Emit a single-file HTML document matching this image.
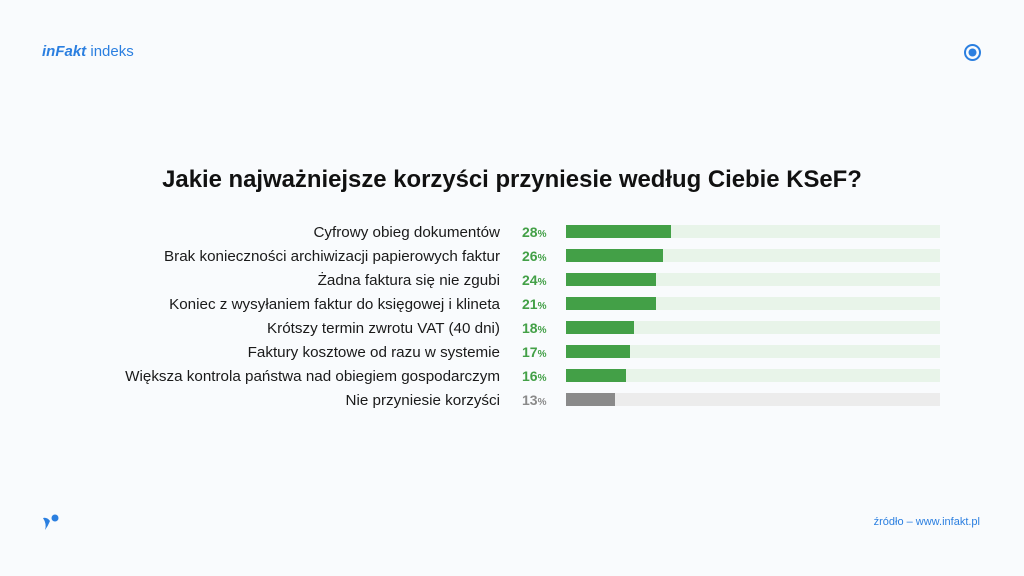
<!DOCTYPE html>
<html><head><meta charset="utf-8"><style>
body{margin:0;width:1024px;height:576px;background:#f9fbfd;font-family:"Liberation Sans","DejaVu Sans",sans-serif;position:relative;overflow:hidden}
.a{position:absolute}
.lbl{position:absolute;right:524px;font-size:15.2px;color:#1a1a1a;white-space:nowrap;line-height:16px;margin-top:1px}
.pct{position:absolute;left:522px;font-size:14px;font-weight:bold;color:#43a047;line-height:16px}
.pct span{font-size:10px}
.track{position:absolute;left:566px;width:374px;height:13px;background:#e8f4e9}
.bar{position:absolute;left:566px;height:13px;background:#43a047}
</style></head><body>
<div class="a" style="left:42px;top:43px;font-size:15px;color:#2b7fe0;"><b style="font-style:italic">inFakt</b> indeks</div>
<svg class="a" style="left:963px;top:43px" width="19" height="19"><circle cx="9.5" cy="9.5" r="7.5" fill="none" stroke="#2b7fe0" stroke-width="2"/><circle cx="9.5" cy="9.5" r="4" fill="#2b7fe0"/></svg>
<svg class="a" style="left:42px;top:513px" width="18" height="18"><circle cx="13" cy="5" r="3.5" fill="#2b7fe0"/><path d="M1 5 Q5 4 8 8 Q6 13 3 17 Q5 11 1 5Z" fill="#2b7fe0"/></svg>
<div class="a" style="right:44px;top:516px;font-size:11px;color:#2b7fe0">źródło – www.infakt.pl</div>
<div class="a" style="left:0;width:1024px;top:166px;text-align:center;font-size:23.9px;font-weight:bold;color:#111">Jakie najważniejsze korzyści przyniesie według Ciebie KSeF?</div>

<div class="lbl" style="top:224px">Cyfrowy obieg dokumentów</div>
<div class="lbl" style="top:248px">Brak konieczności archiwizacji papierowych faktur</div>
<div class="lbl" style="top:272px">Żadna faktura się nie zgubi</div>
<div class="lbl" style="top:296px">Koniec z wysyłaniem faktur do księgowej i klineta</div>
<div class="lbl" style="top:320px">Krótszy termin zwrotu VAT (40 dni)</div>
<div class="lbl" style="top:344px">Faktury kosztowe od razu w systemie</div>
<div class="lbl" style="top:368px">Większa kontrola państwa nad obiegiem gospodarczym</div>
<div class="lbl" style="top:392px">Nie przyniesie korzyści</div>

<div class="pct" style="top:224px">28<span>%</span></div>
<div class="pct" style="top:248px">26<span>%</span></div>
<div class="pct" style="top:272px">24<span>%</span></div>
<div class="pct" style="top:296px">21<span>%</span></div>
<div class="pct" style="top:320px">18<span>%</span></div>
<div class="pct" style="top:344px">17<span>%</span></div>
<div class="pct" style="top:368px">16<span>%</span></div>
<div class="pct" style="top:392px;color:#8a8a8a">13<span>%</span></div>

<div class="track" style="top:225px"></div><div class="bar" style="top:225px;width:105px"></div>
<div class="track" style="top:249px"></div><div class="bar" style="top:249px;width:97px"></div>
<div class="track" style="top:273px"></div><div class="bar" style="top:273px;width:90px"></div>
<div class="track" style="top:297px"></div><div class="bar" style="top:297px;width:90px"></div>
<div class="track" style="top:321px"></div><div class="bar" style="top:321px;width:68px"></div>
<div class="track" style="top:345px"></div><div class="bar" style="top:345px;width:64px"></div>
<div class="track" style="top:369px"></div><div class="bar" style="top:369px;width:60px"></div>
<div class="track" style="top:393px;background:#ececec"></div><div class="bar" style="top:393px;width:49px;background:#8a8a8a"></div>
</body></html>
